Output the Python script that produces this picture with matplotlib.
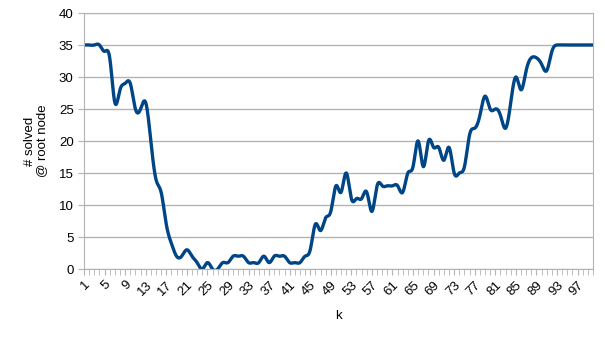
import numpy as np
import matplotlib.pyplot as plt

# number of instances solved at the root node, for k = 1..100
k = list(range(1, 101))
solved = [35, 35, 35, 35, 34, 33, 26, 28, 29, 29,
          25, 25, 26, 20, 14, 12, 7, 4, 2, 2,
          3, 2, 1, 0, 1, 0, 0, 1, 1, 2,
          2, 2, 1, 1, 1, 2, 1, 2, 2, 2,
          1, 1, 1, 2, 3, 7, 6, 8, 9, 13,
          12, 15, 11, 11, 11, 12, 9, 13, 13, 13,
          13, 13, 12, 15, 16, 20, 16, 20, 19, 19,
          17, 19, 15, 15, 16, 21, 22, 24, 27, 25,
          25, 24, 22, 26, 30, 28, 31, 33, 33, 32,
          31, 34, 35, 35, 35, 35, 35, 35, 35, 35]
xtick_labels = [str(v) for v in range(1, 101, 4)]


def natural_spline(x, y, n=20):
    # natural cubic spline through the points, like the smoothed office chart line
    x = np.asarray(x, float)
    y = np.asarray(y, float)
    m = len(x)
    h = np.diff(x)
    A = np.zeros((m, m))
    b = np.zeros(m)
    A[0, 0] = A[-1, -1] = 1
    for i in range(1, m - 1):
        A[i, i - 1] = h[i - 1]
        A[i, i] = 2 * (h[i - 1] + h[i])
        A[i, i + 1] = h[i]
        b[i] = 3 * ((y[i + 1] - y[i]) / h[i] - (y[i] - y[i - 1]) / h[i - 1])
    c = np.linalg.solve(A, b)
    xs, ys = [], []
    for i in range(m - 1):
        bb = (y[i + 1] - y[i]) / h[i] - h[i] * (2 * c[i] + c[i + 1]) / 3
        d = (c[i + 1] - c[i]) / (3 * h[i])
        t = np.linspace(0, h[i], n, endpoint=False)
        xs.append(x[i] + t)
        ys.append(y[i] + bb * t + c[i] * t ** 2 + d * t ** 3)
    xs.append([x[-1]])
    ys.append([y[-1]])
    return np.concatenate(xs), np.concatenate(ys)


plt.rcParams['font.family'] = ['Liberation Sans', 'DejaVu Sans']

fig = plt.figure(figsize=(6.05, 3.4), dpi=100)
ax = fig.add_axes([84 / 605, 1 - 269 / 340, 509 / 605, 256 / 340])

xs, ys = natural_spline(k, solved)
ax.plot(xs, ys, color='#004586', linewidth=2.4, solid_capstyle='round')

ax.set_xlim(1, 100)
ax.set_ylim(0, 40)
ax.set_yticks(range(0, 41, 5))
ax.yaxis.grid(True, color='#b3b3b3', linewidth=1)
ax.set_axisbelow(True)

ax.set_xticks(range(1, 101, 4))
ax.set_xticklabels(xtick_labels, rotation=45, ha='right', rotation_mode='anchor')
ax.set_xticks(k, minor=True)

for side in ['left', 'bottom', 'right', 'top']:
    ax.spines[side].set_color('#b3b3b3')
ax.tick_params(axis='both', which='both', color='#b3b3b3', length=4, labelsize=9.5)
ax.tick_params(axis='x', which='both', direction='out', pad=3)

ax.set_xlabel('k', fontsize=9.5, labelpad=9)
ax.set_ylabel('# solved\n@ root node', fontsize=9.5, labelpad=8, linespacing=1.0)

fig.savefig('out.png', dpi=100)
